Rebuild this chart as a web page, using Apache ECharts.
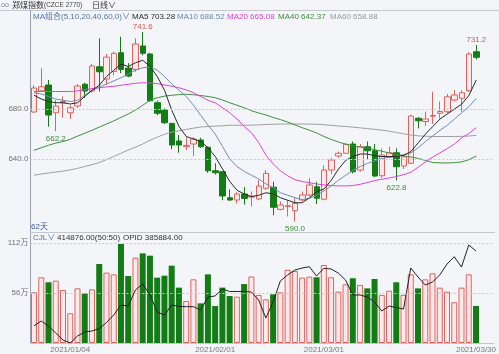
<!DOCTYPE html>
<html><head><meta charset="utf-8">
<script src="https://cdn.jsdelivr.net/npm/echarts@6/dist/echarts.min.js"></script>
<style>html,body{margin:0;padding:0;background:#f4f5f8}#c{width:499px;height:354px}</style>
</head><body><div id="c"></div>
<script>
const dates = ['2020/12/25','2020/12/28','2020/12/29','2020/12/30','2020/12/31',
'2021/01/04','2021/01/05','2021/01/06','2021/01/07','2021/01/08','2021/01/11','2021/01/12','2021/01/13','2021/01/14','2021/01/15',
'2021/01/18','2021/01/19','2021/01/20','2021/01/21','2021/01/22','2021/01/25','2021/01/26','2021/01/27','2021/01/28','2021/01/29',
'2021/02/01','2021/02/02','2021/02/03','2021/02/04','2021/02/05','2021/02/08','2021/02/09','2021/02/10','2021/02/18','2021/02/19',
'2021/02/22','2021/02/23','2021/02/24','2021/02/25','2021/02/26',
'2021/03/01','2021/03/02','2021/03/03','2021/03/04','2021/03/05','2021/03/08','2021/03/09','2021/03/10','2021/03/11','2021/03/12',
'2021/03/15','2021/03/16','2021/03/17','2021/03/18','2021/03/19','2021/03/22','2021/03/23','2021/03/24','2021/03/25','2021/03/26',
'2021/03/29','2021/03/30'];
const opens = [677.6,694.5,699.2,677,685,677,682.4,699.8,694.4,713.8,704,710,725,712.8,711.7,730.4,724,685,679.2,668.5,654.4,649.8,652,655.2,649.4,630.6,629.8,609,607.2,612,609.5,608,616.6,617.4,599.7,602,598.6,607.2,611.2,617.8,607.8,631.2,642.4,644.6,652,631.2,649.8,646.6,626.6,641.4,645,634.4,636.6,672.6,670,674.2,676.6,677.8,687.2,688.6,694.6,725.8];
const closes = [696.8,697.8,675.2,682.4,686,681,698.4,694.4,714.4,709.8,721.5,724.5,711.7,706.4,732,724.6,686.6,676.6,669,651.2,651.2,650.8,656,649.8,630.6,629,610.4,607.2,612,608.5,610,618.4,628.5,601.4,603.2,602.6,604.5,611.2,619.2,608.6,631.2,639.2,644.6,651.8,629.8,649.8,646.6,626.4,643.2,645,633.8,641.8,674.4,670.6,672,674.8,678,689.8,691.2,693,724,721.4];
const lows = [677,693.8,665.8,662.2,673,672,681,688.8,693,694,699,707,708.8,705.5,709.8,723,686,675,668,647.8,645,647.2,642.4,649,629,627.5,607,606.5,604.5,603.5,602,607,615.5,595,599,594,590,606,610,604,607,628,641,644,628.5,630,640,625.5,625,640.5,622.8,632,636,664.5,666.5,668,672.5,676.5,686,677.8,693.5,719.8];
const highs = [699,712.6,703.2,687.2,690,683,700,701,716,736.6,724,726,737.8,716.8,736.6,741.6,725,686.6,680.5,669,659.2,657.4,657.4,657,650,636.6,630,615.7,613.5,617.5,614,623,631,621.8,606,607,608.5,614,624.6,621.8,635,641,646,652.5,654,652,654,652,648.5,650,648.5,642.5,675.5,673.5,677.8,693.8,686,692,695,695,725.5,731.2];
const volumes = [568000,736000,680000,698000,594000,333000,612000,556000,601000,885000,788000,769000,1109000,750000,956000,1004000,978000,732000,754000,866000,620000,470000,713000,444000,769000,414000,620000,526000,519000,660000,745000,538000,489000,545000,568000,820000,806000,732000,743000,736000,874000,736000,575000,657000,725000,650000,612000,717000,538000,586000,680000,538000,769000,612000,713000,780000,620000,575000,456000,620000,769000,414876];
const openInterest = [316100,320500,315900,309300,302800,300000,306500,310300,311200,313500,319100,326100,335500,334500,349500,355100,344800,328900,326100,335500,334100,333900,333900,330800,342900,343900,350400,348100,348100,348100,347600,340100,323300,338300,357900,363500,368100,370000,371200,362500,369700,369100,365300,358800,344800,344800,342900,338300,329900,334500,333100,331700,370000,361600,354100,356900,363500,373700,380600,370900,391500,385884];
const ma5 = [691,688,686,685,685,684,685,690,695,699,706,711,716,714,717,719,714,706,695,679,666,658,656,654,649,642,632,622,615,612,610,611,613,612,609,607,605,605,609,614,616,623,632,639,642,644,644,642.5,642,642,642,643,646,653,660,666,672,676,680,684,691,703.28];
const ma10 = [693,692,690,688,687,686,687,691,695,697.5,700,702.5,705,708,711,713,713.5,711,706,700,695,690,683,675,667,660,650,640,634,630,627,624,620,617,613,611,609,607.5,608.5,611,614.5,618.5,623,627,631,634,636.5,638.5,640.5,641.5,642.4,643.5,645,649,654,658.5,663,667,672,677,682,688.52];
const ma20 = [694,694,694,694,694,694,694.5,695.5,696.3,697,697.6,698.2,699,699.8,700.6,701,700.8,700.3,699.3,698.2,697,695.3,693,690,687,685,681,677,672,666,661,653,643,636,630.5,626.5,623.5,622,621,620,619.3,618.8,618.5,618.5,618.8,619.8,621.2,622.8,623.8,624.8,626,627.5,629.5,633.5,637.8,641.5,645,648.3,652,657,660.5,665.08];
const ma40 = [647,649,651,652.7,654,655.8,658.3,660.6,663,665.5,668,670.5,673.3,676,679.2,683,687,689,690.3,691,691.5,691.8,691.4,690.8,690,689,687.2,685,683,681,678.6,676.8,675.2,673.2,671.5,669.5,667.3,665,663,660.8,658,655.6,653.6,651.8,650.6,649.6,648.7,647.4,646.2,644.8,643.5,642.5,641.6,640.5,638.8,637.2,636.9,636.8,637.1,637.7,639.5,642.37];
const ma60 = [627,628,628.8,629.6,630.3,631.3,632.5,634,635.5,637.2,639.5,642,644.6,647.2,649.5,652,655,657.5,659.8,661.5,662.6,663.6,664.7,665.6,666,666.3,666.6,667,667,667,667.1,667.3,667.6,667.8,668,668,668,668,667.9,667.8,667.4,666.9,666.4,666,665.5,664.9,664.3,663.7,663.1,662.2,661.2,660.2,659.2,658.5,658.2,658,658,658,658,658.1,658.4,658.88];
const priceGridValues = [640, 680];
const volumeGridValues = [560000, 1120000];
const dateLabelIndices = [5, 25, 40, 61];
const highMarks = [15, 61];
const lowMarks = [3, 36, 50];

const FONT = 'Liberation Sans, Arial, Noto Sans CJK SC, sans-serif';
const UP_FILL = '#fde9ea', UP_LINE = '#e0625f', DOWN = '#127d14';
const cats = dates.concat(['', '']);

const chart = echarts.init(document.getElementById('c'), null, {renderer: 'canvas'});

const candleData = opens.map((o, i) => [o, closes[i], lows[i], highs[i]]);
const volData = volumes.map((v, i) => ({
  value: v,
  itemStyle: closes[i] >= opens[i]
    ? {color: UP_FILL, borderColor: UP_LINE, borderWidth: 1}
    : {color: DOWN, borderColor: DOWN, borderWidth: 0}
}));

const markPts = highMarks.map(i => ({coord: [dates[i], highs[i]], value: highs[i],
    label: {position: 'top', distance: 1, color: '#e0534f'}}))
  .concat(lowMarks.map(i => ({coord: [dates[i], lows[i]], value: lows[i],
    label: {position: 'bottom', distance: 3, color: '#3d8b3d'}})));

function maLine(name, data, color) {
  return {name, type: 'line', data, xAxisIndex: 0, yAxisIndex: 0, symbol: 'none',
    lineStyle: {color, width: 1}, itemStyle: {color}, silent: true, z: 3};
}

const mainTop = 10, mainBottom = 232, volTop = 232, volBottom = 343;
const pxPerUnit = 1.25; // price scale
const priceMin = 680 - (mainBottom - 109) / pxPerUnit;
const priceMax = 680 + (109 - mainTop) / pxPerUnit;
const volMax = 1120000 * (volBottom - volTop) / 100;
const oiMin = 300000, oiMax = 300000 + (volBottom - volTop) * 933.5;

const legendItems = [
  {x: 132, text: 'MA5 ' + ma5[61].toFixed(2), color: '#2a2a2a'},
  {x: 177, text: 'MA10 ' + ma10[61].toFixed(2), color: '#6a88b0'},
  {x: 227, text: 'MA20 ' + ma20[61].toFixed(2), color: '#dd3fd6'},
  {x: 278, text: 'MA40 ' + ma40[61].toFixed(2), color: '#3a8c3a'},
  {x: 330, text: 'MA60 ' + ma60[61].toFixed(2), color: '#9a9a9a'}
];

function txt(x, y, text, color, size, family) {
  return {type: 'text', x, y, silent: true, z: 100,
    style: {text, fill: color, fontSize: size || 8, fontFamily: family || FONT, verticalAlign: 'middle'}};
}

const option = {
  backgroundColor: '#f4f5f8',
  animation: false,
  grid: [
    {left: 30.4, right: 4.6, top: mainTop, height: mainBottom - mainTop},
    {left: 30.4, right: 4.6, top: volTop, height: volBottom - volTop}
  ],
  xAxis: [
    {type: 'category', gridIndex: 0, data: cats, boundaryGap: true,
      axisLine: {show: true, lineStyle: {color: '#c3c6cf'}}, axisTick: {show: false},
      axisLabel: {show: false}, splitLine: {show: false}},
    {type: 'category', gridIndex: 1, data: cats, boundaryGap: true,
      axisLine: {show: true, lineStyle: {color: '#c3c6cf'}}, axisTick: {show: false},
      axisLabel: {show: true, interval: (idx) => dateLabelIndices.includes(idx), color: '#777',
        fontSize: 8, fontFamily: FONT, margin: 3},
      splitLine: {show: false}}
  ],
  yAxis: [
    {type: 'value', gridIndex: 0, min: priceMin, max: priceMax, position: 'left',
      axisLine: {show: true, lineStyle: {color: '#9aa0b0'}}, axisTick: {show: false},
      axisLabel: {show: false}, splitLine: {show: false}},
    {type: 'value', gridIndex: 1, min: 0, max: volMax, position: 'left',
      axisLine: {show: true, lineStyle: {color: '#9aa0b0'}}, axisTick: {show: false},
      axisLabel: {show: false}, splitLine: {show: false}},
    {type: 'value', gridIndex: 1, min: oiMin, max: oiMax, show: false}
  ],
  graphic: [
    {type: 'line', silent: true, shape: {x1: 0, y1: 10.5, x2: 499, y2: 10.5}, style: {stroke: '#c5c8d0', lineWidth: 1}},
    txt(1, 5, 'oo', '#6d7fa3', 7),
    {type: 'text', x: 12, y: 5, silent: true, z: 100,
      style: {text: '{a|郑煤指数}{b|(CZCE 2770)}', verticalAlign: 'middle',
        rich: {a: {fontSize: 8, fill: '#333', fontFamily: 'Noto Sans CJK SC'},
               b: {fontSize: 6.5, fill: '#444', fontFamily: FONT}}}},
    txt(92, 5, '日线∨', '#333', 8, 'Noto Sans CJK SC'),
    txt(33, 16.5, 'MA组合(5,10,20,40,60,0)∨', '#4f74b8', 8, 'Liberation Sans, Noto Sans CJK SC'),
    ...legendItems.map(it => txt(it.x, 16.5, it.text, it.color, 8)),
    txt(31, 226.5, '62天', '#3b5aa0', 8, 'Liberation Sans, Noto Sans CJK SC'),
    txt(33, 237.5, 'CJL∨', '#4f74b8', 8),
    txt(57, 237.5, volumes[61].toFixed(2) + '(50:50)', '#333', 8),
    txt(123, 237.5, 'OPID ' + openInterest[61].toFixed(2), '#333', 8)
  ],
  series: [
    {name: 'K', type: 'candlestick', xAxisIndex: 0, yAxisIndex: 0, data: candleData, barWidth: 6,
      itemStyle: {color: UP_FILL, color0: DOWN, borderColor: UP_LINE, borderColor0: DOWN, borderWidth: 1},
      z: 2,
      markLine: {silent: true, symbol: ['none', 'none'], animation: false,
        lineStyle: {color: '#c8cad1', type: [2, 2], width: 1},
        label: {position: 'start', distance: 2, color: '#707070', fontSize: 8, fontFamily: FONT,
          formatter: p => p.value.toFixed(1)},
        data: priceGridValues.map(v => ({yAxis: v}))},
      markPoint: {symbol: 'circle', symbolSize: 1, silent: true, animation: false,
        itemStyle: {color: 'rgba(0,0,0,0)'},
        label: {show: true, fontSize: 8, fontFamily: FONT, formatter: p => p.value.toFixed(1)},
        data: markPts}},
    maLine('MA60', ma60, '#a0a0a0'),
    maLine('MA40', ma40, '#3f8f3f'),
    maLine('MA20', ma20, '#dd44d6'),
    maLine('MA10', ma10, '#6f8db4'),
    maLine('MA5', ma5, '#2a2a2a'),
    {name: 'CJL', type: 'bar', xAxisIndex: 1, yAxisIndex: 1, data: volData, barWidth: 6,
      markLine: {silent: true, symbol: ['none', 'none'], animation: false,
        lineStyle: {color: '#c8cad1', type: [2, 2], width: 1},
        label: {position: 'start', distance: 2, color: '#707070', fontSize: 8, fontFamily: 'Liberation Sans, Noto Sans CJK SC',
          formatter: p => (p.value / 10000) + '万'},
        data: volumeGridValues.map(v => ({yAxis: v}))}},
    {name: 'OPID', type: 'line', xAxisIndex: 1, yAxisIndex: 2, data: openInterest, symbol: 'none',
      lineStyle: {color: '#222', width: 1}, silent: true, z: 4}
  ]
};
chart.setOption(option);
</script></body></html>
